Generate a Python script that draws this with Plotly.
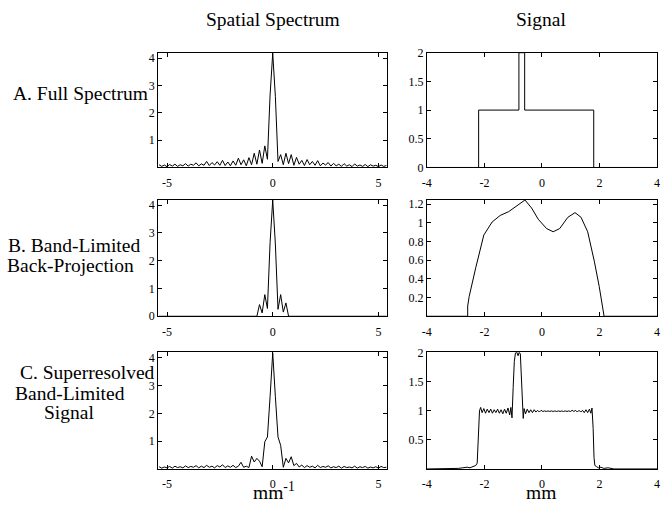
import numpy as np
import plotly.graph_objects as go

# ---------------- data ----------------
# spatial-frequency grid (mm^-1)
spec_x0, spec_dx = -5.375, 0.125

spec_full = [
    0.10, 0.04, 0.09, 0.03, 0.11, 0.05, 0.12, 0.04,
    0.10, 0.06, 0.14, 0.05, 0.12, 0.08, 0.17, 0.06,
    0.13, 0.08, 0.22, 0.07, 0.18, 0.09, 0.21, 0.08,
    0.26, 0.07, 0.20, 0.06, 0.24, 0.08, 0.34, 0.10,
    0.28, 0.06, 0.36, 0.10, 0.52, 0.12, 0.64, 0.15,
    0.79, 0.30, 2.65, 4.18, 2.60, 0.22, 0.47, 0.10,
    0.52, 0.14, 0.47, 0.08, 0.37, 0.12, 0.26, 0.07,
    0.29, 0.10, 0.22, 0.08, 0.25, 0.06, 0.16, 0.09,
    0.18, 0.05, 0.15, 0.06, 0.12, 0.04, 0.14, 0.05,
    0.10, 0.03, 0.13, 0.05, 0.09, 0.04, 0.11, 0.03,
    0.10, 0.05, 0.08, 0.03, 0.09, 0.04, 0.07,
]

spec_band = [
    0, 0, 0, 0, 0, 0, 0, 0,
    0, 0, 0, 0, 0, 0, 0, 0,
    0, 0, 0, 0, 0, 0, 0, 0,
    0, 0, 0, 0, 0, 0, 0, 0,
    0, 0, 0, 0, 0, 0.0, 0.42, 0.12,
    0.78, 0.28, 2.65, 4.18, 2.60, 0.25, 0.78, 0.15,
    0.48, 0.0, 0, 0, 0, 0, 0, 0,
    0, 0, 0, 0, 0, 0, 0, 0,
    0, 0, 0, 0, 0, 0, 0, 0,
    0, 0, 0, 0, 0, 0, 0, 0,
    0, 0, 0, 0, 0, 0, 0,
]

spec_super = [
    0.08, 0.03, 0.07, 0.04, 0.09, 0.03, 0.10, 0.05,
    0.08, 0.04, 0.11, 0.05, 0.09, 0.06, 0.12, 0.04,
    0.10, 0.05, 0.13, 0.06, 0.10, 0.04, 0.12, 0.07,
    0.15, 0.05, 0.11, 0.06, 0.13, 0.05, 0.10, 0.24,
    0.06, 0.10, 0.05, 0.46, 0.25, 0.38, 0.28, 0.08,
    0.98, 1.15, 2.60, 4.18, 2.60, 1.15, 0.85, 0.06,
    0.38, 0.22, 0.44, 0.12, 0.20, 0.07, 0.14, 0.05,
    0.12, 0.06, 0.10, 0.04, 0.13, 0.05, 0.09, 0.06,
    0.11, 0.04, 0.08, 0.05, 0.10, 0.03, 0.09, 0.05,
    0.07, 0.04, 0.10, 0.03, 0.08, 0.05, 0.09, 0.03,
    0.07, 0.04, 0.08, 0.03, 0.09, 0.05, 0.06,
]

spec_x = spec_x0 + spec_dx * np.arange(len(spec_full))

# signals (mm)
sigA_x = [-4.0, -2.2, -2.2, -0.8, -0.8, -0.6, -0.6, 1.8, 1.8, 4.0]
sigA_y = [0, 0, 1, 1, 2, 2, 1, 1, 0, 0]

sigB_x = [-4.0, -2.58, -2.58, -2.53, -2.30, -2.02, -1.73, -1.45, -1.16, -0.88,
          -0.59, -0.36, -0.13, 0.16, 0.39, 0.62, 0.90, 1.15, 1.36, 1.59,
          1.82, 1.99, 2.16, 4.0]
sigB_y = [0.0, 0.0, 0.11, 0.21, 0.52, 0.87, 1.01, 1.08, 1.12, 1.18,
          1.245, 1.16, 1.04, 0.94, 0.905, 0.94, 1.06, 1.11, 1.06, 0.905,
          0.59, 0.32, 0.0, 0.0]

sigC_x = [-4.0, -3.0, -2.9, -2.75, -2.6, -2.5, -2.4, -2.3, -2.25, -2.21, -2.17, -2.13,
          -2.08, -2.02, -1.96, -1.90, -1.84, -1.78, -1.72, -1.66, -1.60, -1.54,
          -1.48, -1.42, -1.36, -1.30, -1.24, -1.18, -1.12, -1.08, -1.04, -1.00,
          -0.96, -0.92, -0.87, -0.83, -0.79, -0.75, -0.72, -0.68, -0.65, -0.62,
          -0.57, -0.51, -0.45, -0.39, -0.33, -0.27, -0.21, -0.15, -0.09, -0.03,
          0.03, 0.09, 0.15, 0.21, 0.27, 0.33, 0.39, 0.45, 0.51, 0.57, 0.63,
          0.69, 0.75, 0.81, 0.87, 0.93, 0.99, 1.05, 1.11, 1.17, 1.23, 1.29,
          1.35, 1.41, 1.47, 1.53, 1.59, 1.65, 1.70, 1.74, 1.78, 1.81, 1.84,
          1.90, 1.96, 2.05, 2.15, 2.30, 2.50, 4.0]
sigC_y = [0.0, 0.0, 0.01, 0.02, 0.03, 0.02, 0.04, 0.06, 0.10, 0.60, 1.00, 1.06,
          0.97, 1.04, 0.96, 1.03, 0.97, 1.03, 0.96, 1.02, 0.97, 1.03,
          0.96, 1.02, 0.95, 1.03, 0.96, 1.05, 0.93, 1.06, 0.88, 1.40,
          1.85, 2.00, 2.01, 1.95, 2.01, 1.98, 1.60, 1.00, 0.87, 1.04,
          0.95, 1.03, 0.97, 1.02, 0.97, 1.02, 0.98, 1.01, 0.98, 1.01,
          0.99, 1.00, 0.99, 1.00, 0.99, 1.00, 0.99, 1.00, 0.99, 1.00, 0.99,
          1.00, 0.99, 1.00, 0.99, 1.00, 0.99, 1.01, 0.99, 1.01, 0.98, 1.01,
          0.98, 1.01, 0.97, 1.02, 0.97, 1.03, 0.96, 1.05, 0.70, 0.20, 0.06,
          0.04, 0.02, 0.03, 0.01, 0.02, 0.0, 0.0]

spec_xticks = [-5, 0, 5]
spec_xlabels = ["-5", "0", "5"]
spec_yticks_A = [1, 2, 3, 4]
spec_yticks_B = [0, 1, 2, 3, 4]
spec_yticks_C = [1, 2, 3, 4]
sig_xticks = [-4, -2, 0, 2, 4]
sig_xlabels = ["-4", "-2", "0", "2", "4"]
sigA_yticks = [0, 0.5, 1, 1.5, 2]
sigB_yticks = [0.2, 0.4, 0.6, 0.8, 1, 1.2]
sigC_yticks = [0.5, 1, 1.5, 2]

col_titles = ["Spatial Spectrum", "Signal"]
x_titles = ["mm<sup>-1</sup>", "mm"]

# ---------------- layout helpers ----------------
W, H = 662, 510
FONT = "Liberation Serif"


def px(x):
    return x / W


def py(y):
    return 1 - y / H


colL = [px(155), px(387)]
colR = [px(427), px(660)]
rows = [[py(165), py(47)], [py(318), py(198)], [py(475), py(355)]]


def axis(domain, rng, tickvals, anchor, ticktext=None, standoff=0):
    d = dict(domain=domain, range=rng, tickvals=tickvals, anchor=anchor,
             ticks="inside", ticklen=4, tickwidth=1, tickcolor="black",
             mirror="allticks", showline=True, linecolor="black", linewidth=1,
             showgrid=False, zeroline=False, ticklabeloverflow="allow",
             ticklabelstandoff=standoff,
             tickfont=dict(family=FONT, size=12, color="black"))
    if ticktext is not None:
        d["ticktext"] = ticktext
    return d


fig = go.Figure()
line = dict(color="black", width=1)

panels = [
    (spec_x, spec_full, "x", "y"),
    (sigA_x, sigA_y, "x2", "y2"),
    (spec_x, spec_band, "x3", "y3"),
    (sigB_x, sigB_y, "x4", "y4"),
    (spec_x, spec_super, "x5", "y5"),
    (sigC_x, sigC_y, "x6", "y6"),
]
for xs, ys, xa, ya in panels:
    fig.add_trace(go.Scatter(x=xs, y=ys, mode="lines", line=line,
                             xaxis=xa, yaxis=ya, showlegend=False, cliponaxis=True))

srange = [-5.42, 5.42]
grange = [-4, 4]
XS = 4
layout = dict(
    xaxis=axis(colL, srange, spec_xticks, "y", spec_xlabels, XS),
    yaxis=axis(rows[0], [0, 4.2], spec_yticks_A, "x"),
    xaxis2=axis(colR, grange, sig_xticks, "y2", sig_xlabels, XS),
    yaxis2=axis(rows[0], [0, 2], sigA_yticks, "x2"),
    xaxis3=axis(colL, srange, spec_xticks, "y3", spec_xlabels, XS),
    yaxis3=axis(rows[1], [0, 4.2], spec_yticks_B, "x3"),
    xaxis4=axis(colR, grange, sig_xticks, "y4", sig_xlabels, XS),
    yaxis4=axis(rows[1], [0, 1.25], sigB_yticks, "x4"),
    xaxis5=axis(colL, srange, spec_xticks, "y5", spec_xlabels, XS),
    yaxis5=axis(rows[2], [0, 4.2], spec_yticks_C, "x5"),
    xaxis6=axis(colR, grange, sig_xticks, "y6", sig_xlabels, XS),
    yaxis6=axis(rows[2], [0, 2.01], sigC_yticks, "x6"),
)
fig.update_layout(**layout)

ann = []
tf = dict(family=FONT, size=19.5, color="black")
ann.append(dict(text=col_titles[0], x=px(271), y=py(13), font=tf))
ann.append(dict(text=col_titles[1], x=px(543), y=py(13), font=tf))
ann.append(dict(text="A. Full Spectrum", x=px(76), y=py(89), font=tf))
ann.append(dict(text="B. Band-Limited", x=px(70), y=py(245), font=tf))
ann.append(dict(text="Back-Projection", x=px(66.5), y=py(266), font=tf))
ann.append(dict(text="C. Superresolved", x=px(83.5), y=py(376), font=tf))
ann.append(dict(text="Band-Limited", x=px(65.5), y=py(397), font=tf))
ann.append(dict(text="Signal", x=px(65), y=py(417), font=tf))
ann.append(dict(text=x_titles[0], x=px(272), y=py(498), font=tf))
ann.append(dict(text=x_titles[1], x=px(543), y=py(499), font=tf))
for a in ann:
    a.update(xref="paper", yref="paper", showarrow=False,
             xanchor="center", yanchor="middle", borderpad=0)

fig.update_layout(annotations=ann, width=W, height=H,
                  margin=dict(l=0, r=0, t=0, b=0),
                  paper_bgcolor="white", plot_bgcolor="white",
                  font=dict(family=FONT, color="black"))

fig.write_html("out.html", config={"displayModeBar": False},
               post_script="document.body.style.margin='0';"
                           "document.body.style.padding='0';")
